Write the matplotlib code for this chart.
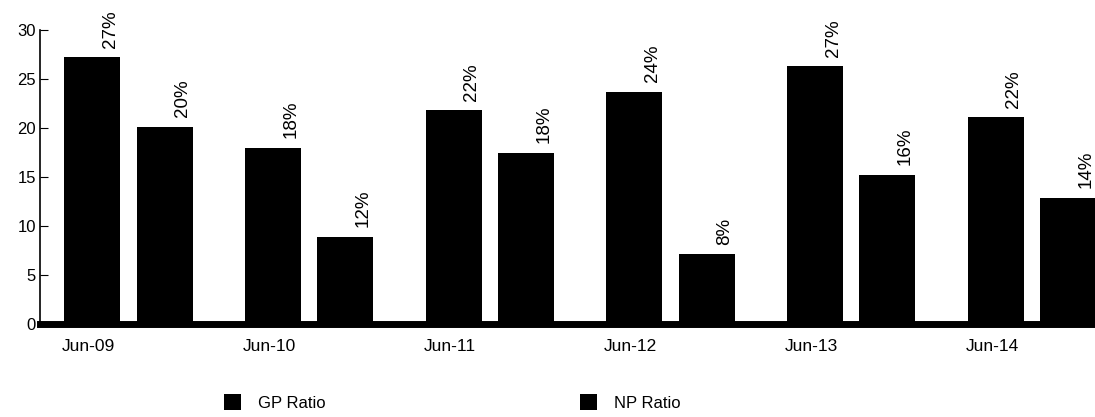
import numpy as np
import matplotlib
matplotlib.use('Agg')
import matplotlib.pyplot as plt

years = ['Jun-09', 'Jun-10', 'Jun-11', 'Jun-12', 'Jun-13', 'Jun-14']
gp_ratio = [27.2, 18.0, 21.8, 23.7, 26.3, 21.1]
np_ratio = [20.1, 8.9, 17.5, 7.1, 15.2, 12.9]
gp_labels = ['27%', '18%', '22%', '24%', '27%', '22%']
np_labels = ['20%', '12%', '18%', '8%', '16%', '14%']

plt.rcParams['font.family'] = ['Liberation Sans', 'DejaVu Sans']

fig = plt.figure(figsize=(10.95, 4.17), dpi=100)
ax1 = fig.add_axes([0.0365, 0.223, 0.9635, 0.705])

index = np.arange(len(years))
w = 0.31
off = 0.2

b1 = ax1.bar(index - off, gp_ratio, w, color='black', label='GP Ratio')
b2 = ax1.bar(index + off, np_ratio, w, color='black', label='NP Ratio')

for i in range(len(years)):
    ax1.annotate(gp_labels[i], (index[i] - off + 0.1, gp_ratio[i]), xytext=(0, 7),
                 textcoords='offset points', rotation=90, ha='center', va='bottom',
                 fontsize=13.5, annotation_clip=False)
    ax1.annotate(np_labels[i], (index[i] + off + 0.1, np_ratio[i]), xytext=(0, 7),
                 textcoords='offset points', rotation=90, ha='center', va='bottom',
                 fontsize=13.5, annotation_clip=False)

ax1.set_xlim(-0.49, 5.35)
ax1.set_ylim(0, 30)
ax1.set_yticks(np.arange(0, 31, 5))
ax1.tick_params(axis='y', direction='in', length=6, labelsize=12, pad=3)
ax1.set_xticks(index - 0.22)
ax1.set_xticklabels(years, fontsize=12.5)
ax1.tick_params(axis='x', length=0, pad=11)

for s in ['top', 'right']:
    ax1.spines[s].set_visible(False)
ax1.spines['bottom'].set_linewidth(5)
ax1.spines['left'].set_linewidth(1.2)

fig.legend(handles=[b1, b2], loc='center', bbox_to_anchor=(0.413, 0.034), ncol=2,
           frameon=False, columnspacing=15.3, handlelength=1.0, handleheight=1.1,
           handletextpad=1.0, fontsize=12)

fig.savefig('out.png', dpi=100)
